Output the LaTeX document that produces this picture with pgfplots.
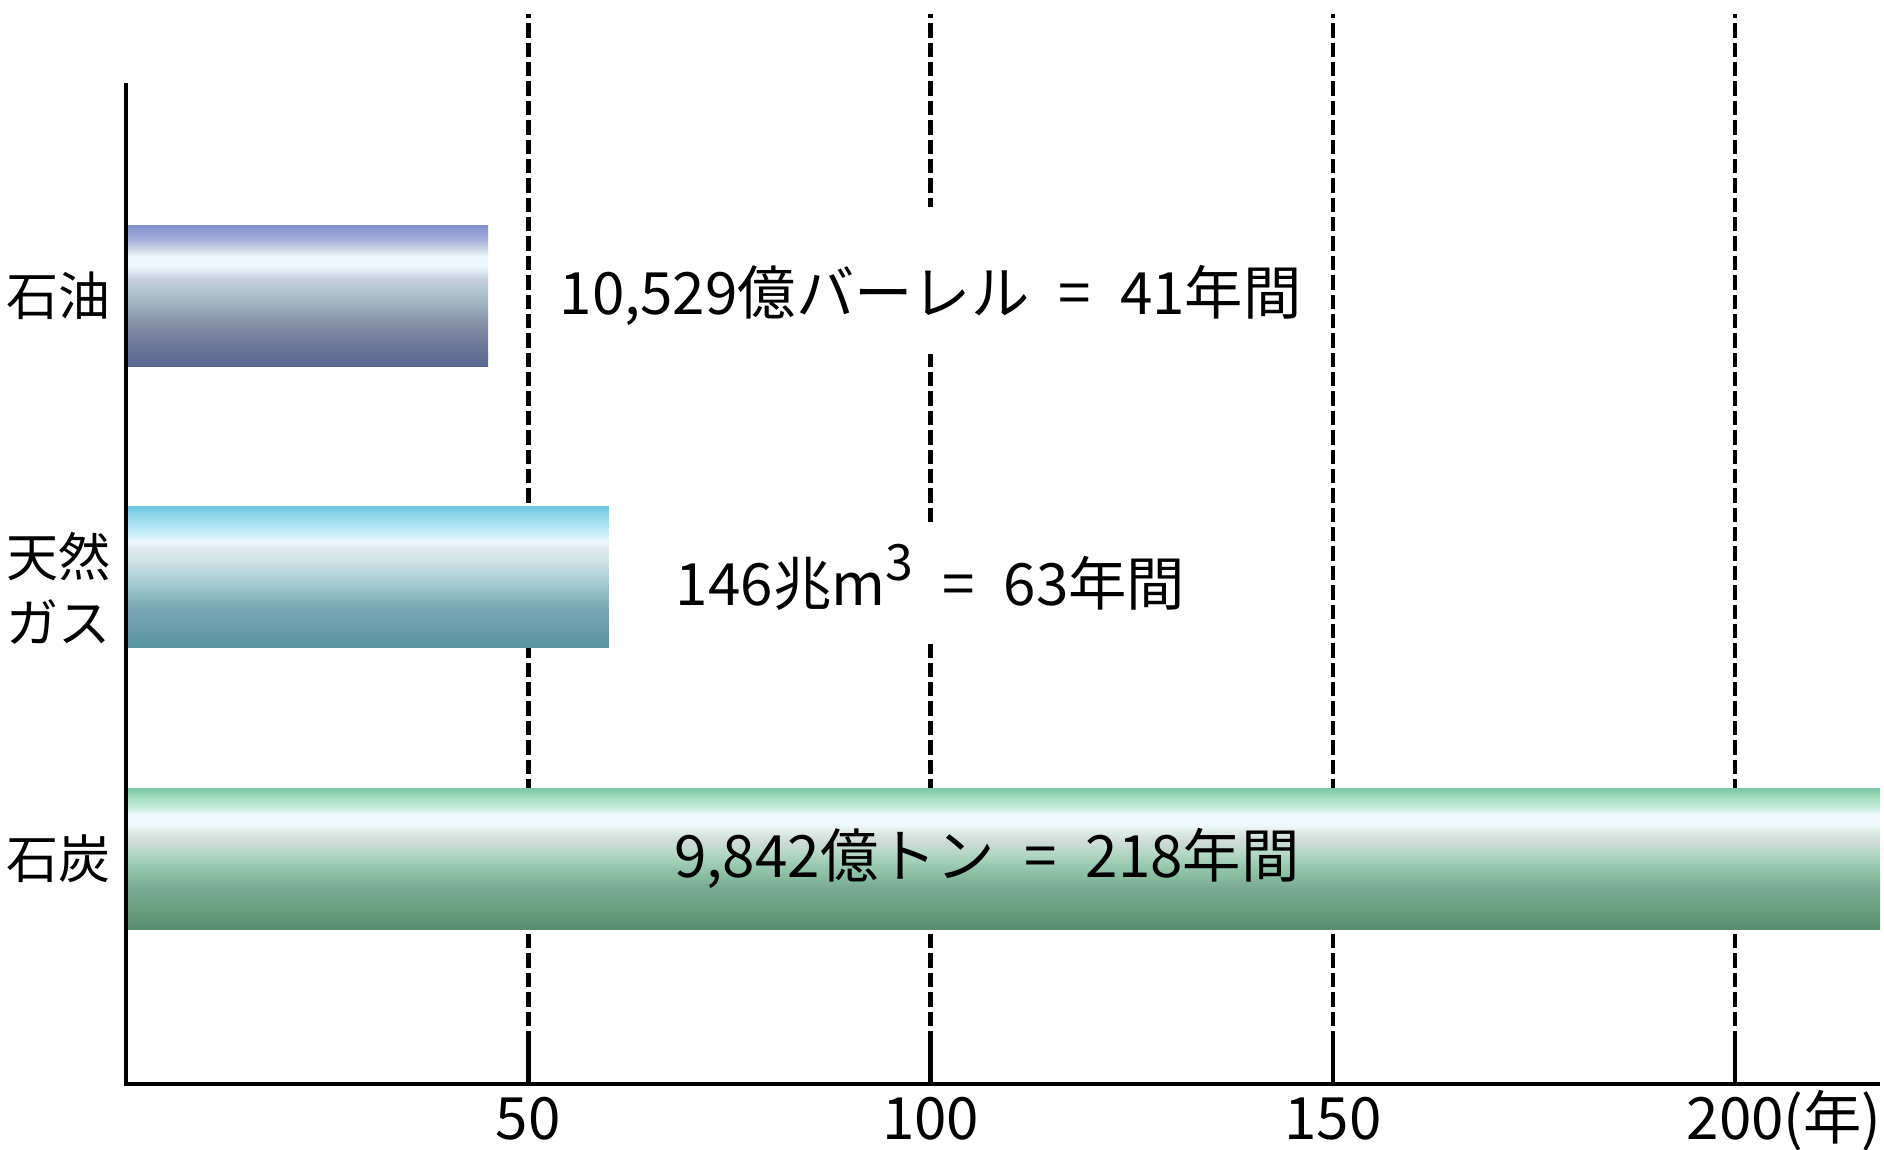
\documentclass[border=0pt]{standalone}
\usepackage{fontspec}
\setmainfont{Noto Sans CJK JP}
\usepackage{pgfplots}
\pgfplotsset{compat=1.18}

% oil: blue-grey
\definecolor{o1}{HTML}{7F8FC8}\definecolor{o2}{HTML}{A8B0DC}\definecolor{o3}{HTML}{D4DEE8}
\definecolor{o4}{HTML}{F0F8FF}\definecolor{o5}{HTML}{C8D0E0}\definecolor{o6}{HTML}{B4C8D4}
\definecolor{o7}{HTML}{A0B4C0}\definecolor{o8}{HTML}{8490A8}\definecolor{o9}{HTML}{6C7898}
\definecolor{o10}{HTML}{5A6890}
% gas: cyan
\definecolor{g1}{HTML}{70C8E0}\definecolor{g2}{HTML}{90D8E8}\definecolor{g3}{HTML}{B0E4F4}
\definecolor{g4}{HTML}{D0F0F8}\definecolor{g5}{HTML}{F0F8FF}\definecolor{g6}{HTML}{E0E8F0}
\definecolor{g7}{HTML}{D0E8E8}\definecolor{g8}{HTML}{C0D8E0}\definecolor{g9}{HTML}{A8CCD4}
\definecolor{g10}{HTML}{90BCC4}\definecolor{g11}{HTML}{78A8B4}\definecolor{g12}{HTML}{6A9CAA}
\definecolor{g13}{HTML}{5A94A0}
% coal: green
\definecolor{c1}{HTML}{7CC8A4}\definecolor{c2}{HTML}{A0DCBC}\definecolor{c3}{HTML}{C4ECD8}
\definecolor{c4}{HTML}{F0F8FF}\definecolor{c5}{HTML}{E0ECE4}\definecolor{c6}{HTML}{D0DCD8}
\definecolor{c7}{HTML}{B8D8C8}\definecolor{c8}{HTML}{98C8B0}\definecolor{c9}{HTML}{88BCA0}
\definecolor{c10}{HTML}{78A890}\definecolor{c11}{HTML}{68A07C}\definecolor{c12}{HTML}{5A8C70}

\pgfdeclareverticalshading{oilshade}{100bp}{color(0bp)=(o10); color(25bp)=(o10);
  color(32.5bp)=(o9); color(40bp)=(o8); color(47.5bp)=(o7); color(52.5bp)=(o6);
  color(56bp)=(o5); color(61bp)=(o4); color(64bp)=(o4); color(66bp)=(o3);
  color(70bp)=(o2); color(75bp)=(o1); color(100bp)=(o1)}
\pgfdeclareverticalshading{gasshade}{100bp}{color(0bp)=(g13); color(25bp)=(g13);
  color(32bp)=(g12); color(39bp)=(g11); color(44bp)=(g10); color(48.5bp)=(g9);
  color(53bp)=(g8); color(56.5bp)=(g7); color(60.5bp)=(g6); color(62.5bp)=(g5);
  color(65bp)=(g4); color(68.5bp)=(g3); color(72bp)=(g2); color(75bp)=(g1); color(100bp)=(g1)}
\pgfdeclareverticalshading{coalshade}{100bp}{color(0bp)=(c12); color(25bp)=(c12);
  color(32.5bp)=(c11); color(39bp)=(c10); color(44bp)=(c9); color(47.5bp)=(c8);
  color(52.5bp)=(c7); color(56.5bp)=(c6); color(60bp)=(c5); color(62bp)=(c4);
  color(65.5bp)=(c4); color(68.5bp)=(c3); color(72bp)=(c2); color(75bp)=(c1); color(100bp)=(c1)}

\newcommand\lbl{\fontsize{14pt}{15.8pt}\selectfont}
\newcommand\oiltext{10,529億バーレル\enspace=\enspace41年間}
\newcommand\gastext{146兆m\raisebox{0.42em}{\fontsize{12pt}{12pt}\selectfont 3}\enspace=\enspace63年間}
\newcommand\coaltext{9,842億トン\enspace=\enspace218年間}

\begin{document}
\begin{tikzpicture}
\begin{axis}[
  scale only axis, width=420.96pt, height=256.7pt,
  xmin=0, xmax=218, ymin=0.2, ymax=4,
  axis line style={draw=none},
  xtick={50,100,150,200},
  xticklabels={50,100,150,{200\rlap{(年)}}},
  xtick pos=bottom, tick align=inside,
  major tick length=9.6pt,
  tick style={black, line width=1.1pt},
  ytick={1,2,3},
  yticklabels={石炭,{\rule{0pt}{15.8pt}天然\\ガス},{石油}},
  ytick style={draw=none},
  tick label style={font=\lbl},
  yticklabel style={align=left, xshift=9.4pt, font=\fontsize{12.5pt}{15.8pt}\selectfont},
  xmajorgrids,
  major grid style={black, line width=1.1pt, dash pattern=on 3.45pt off 1.2pt},
  xticklabel style={anchor=base, yshift=-13.4pt},
  xbar, bar width=0.5, bar shift=0pt,
  clip=false,
]
\addplot[shading=coalshade, draw=none] coordinates {(218,1)};
\addplot[shading=gasshade, draw=none] coordinates {(60,2)};
\addplot[shading=oilshade, draw=none] coordinates {(45,3)};

\draw[black, line width=1.1pt] (axis cs:0,3.757) -- (axis cs:0,0.2) -- (axis cs:218,0.2);

\node[fill=white, inner xsep=1pt, inner ysep=0pt, minimum height=35.3pt, yshift=3.6pt, font=\lbl]
  at (axis cs:100,3) {\phantom{\oiltext}};
\node[font=\lbl, inner sep=0pt] at (axis cs:100,3) {\oiltext};
\node[fill=white, inner xsep=1pt, inner ysep=0pt, minimum height=28.3pt, yshift=-1.9pt, font=\lbl]
  at (axis cs:100,2) {\phantom{\gastext}};
\node[font=\lbl, inner sep=0pt] at (axis cs:100,2) {\gastext};
\node[font=\lbl, inner sep=0pt] at (axis cs:107,1) {\coaltext};

\coordinate (o) at (axis cs:0,0.2);
\end{axis}
\pgfresetboundingbox
\path ([shift={(-30.24pt,-15.6pt)}]o) rectangle ([shift={(421.92pt,260.16pt)}]o);
\end{tikzpicture}
\end{document}
